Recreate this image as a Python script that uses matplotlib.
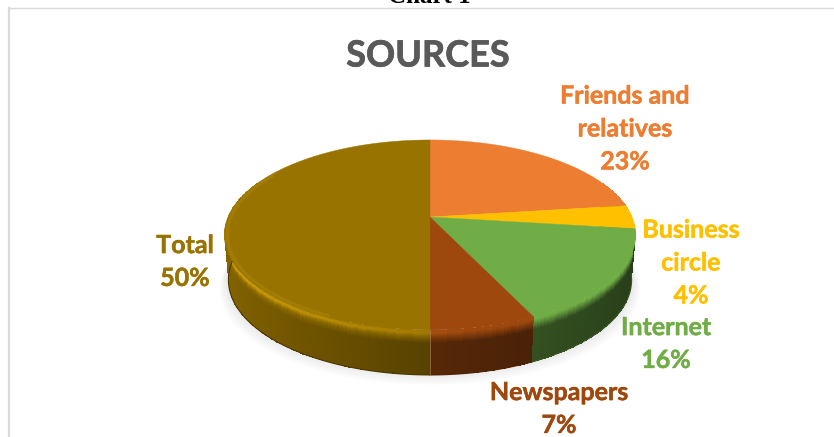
import numpy as np
import matplotlib
matplotlib.use("Agg")
import matplotlib.pyplot as plt
import matplotlib.patheffects as pe
from matplotlib.colors import to_rgb

# values, clockwise from 12 o'clock
names = ["Friends and\nrelatives", "Business\ncircle", "Internet", "Newspapers", "Total"]
values = [23, 4, 16, 7, 50]
colors = ["#ED7D31", "#FFC000", "#70AD47", "#9E480E", "#997300"]
title = "SOURCES"
label_pos = [(625, 129), (691, 263), (666, 344), (559, 409), (185, 262)]

plt.rcParams["font.family"] = ["Lato", "DejaVu Sans"]

fig = plt.figure(figsize=(8.34, 4.37), dpi=100)
ax = fig.add_axes([0, 0, 1, 1])
ax.set_xlim(0, 834)
ax.set_ylim(437, 0)
ax.axis("off")

# pie placement in pixels, with a perspective factor (the apex sits above the ellipse centre)
cx, cy = 430, 217
B, A, k = 202, 91.6, 0.189
depth = 45


def project(theta, d=0.0):
    # theta in degrees clockwise from top, d = distance down the side wall
    t = np.radians(theta)
    u, v = np.sin(t), np.cos(t)
    s = 1 / (1 + k * v)
    shrink = 1 - 0.02 * d / depth
    return cx + B * u * s * shrink, cy - A * v * s + d


# soft shadow under the pie
th = np.linspace(0, 360, 200)
sx, sy = project(th, depth - 3)
for grow in range(12, 0, -1):
    ax.fill(cx + (sx - cx) * (1 + grow * 0.0035), sy + 1.1 * grow, color="#808084", alpha=0.016, lw=0, zorder=1)

# side wall with bevel, a small mesh per slice so the shading can follow the angle
angles = np.cumsum([0] + values) * 3.6
levels = np.arange(0, depth + 1, 1.0)
for i in range(len(values)):
    base_col = np.array(to_rgb(colors[i]))
    steps = np.linspace(angles[i], angles[i + 1], int(values[i] * 3.6) + 2)
    steps = steps[np.cos(np.radians(steps)) < 0.4]
    if len(steps) < 2:
        continue
    grid_th, grid_d = np.meshgrid(steps, levels)
    X, Y = project(grid_th, grid_d)
    mid_th = (grid_th[:-1, :-1] + grid_th[1:, 1:]) / 2
    mid_d = (grid_d[:-1, :-1] + grid_d[1:, 1:]) / 2
    xp = np.sin(np.radians(mid_th))
    # dark wall: brighter to the left, darker to the right
    wall = np.where(xp < 0, 0.57 + 0.3 * np.abs(xp), 0.55 - 0.2 * xp)
    # highlight on the rim, only on the left half and the front
    glow = np.clip(-xp + 0.15, 0, 1) * 0.2
    blend = np.clip((mid_d - 3) / 10.0, 0, 1)[..., None]
    rim = np.clip(base_col + glow[..., None] * np.exp(-((mid_d[..., None] - 3.0) / 3.5) ** 2) * np.array([1, 0.85, 0.2]), 0, 1)
    rgb = rim * (1 - blend) + base_col * wall[..., None] * blend
    ax.pcolormesh(X, Y, rgb, shading="flat", antialiased=False, zorder=2, rasterized=True)
    # smooth the lower contour
    ex, ey = project(steps, depth)
    ax.plot(ex, ey, color=tuple(base_col * 0.5), lw=0.8, zorder=2)

# thin light seam where total meets newspapers
sx0, sy0 = project(180, 0)
sx1, sy1 = project(180, depth)
ax.plot([sx0, sx1], [sy0, sy1], color="#b08a60", lw=0.6, alpha=0.7, zorder=3)

# top face
for i in range(len(values)):
    th = np.linspace(angles[i], angles[i + 1], 120)
    xs, ys = project(th)
    ax.fill(np.r_[cx, xs], np.r_[cy, ys], color=colors[i], lw=0.3, zorder=4)

# faint lighter rim on the left of the top face
rim_th = np.linspace(205, 300, 80)
rx, ry = project(rim_th)
ax.plot(cx + (rx - cx) * 0.985, cy + (ry - cy) * 0.985, color="#AD8607", lw=2.2, alpha=0.55, zorder=5,
        solid_capstyle="round")

# title, clipped caption and page frame
ax.text(428, 56, title, fontsize=26, fontweight="bold", color="#595959", ha="center", va="center", zorder=6,
        path_effects=[pe.withStroke(linewidth=0.5, foreground="#595959")])
ax.text(429, 3, "Chart 1", fontsize=18, fontweight="bold", family="Liberation Serif", color="black",
        ha="center", va="baseline", zorder=6)
ax.plot([9.5, 834], [7.5, 7.5], color="#D9D9D9", lw=1.0, zorder=0)
ax.plot([9.5, 9.5], [7.5, 437], color="#D9D9D9", lw=1.6, zorder=0)

# data labels
for name, val, col, (lx, ly) in zip(names, values, colors, label_pos):
    ax.text(lx, ly, f"{name}\n{val}%", fontsize=18, fontweight="bold", color=col, ha="center", va="center",
            linespacing=1.52, zorder=6, path_effects=[pe.withStroke(linewidth=0.35, foreground=col)])

fig.savefig("out.png", dpi=100)
